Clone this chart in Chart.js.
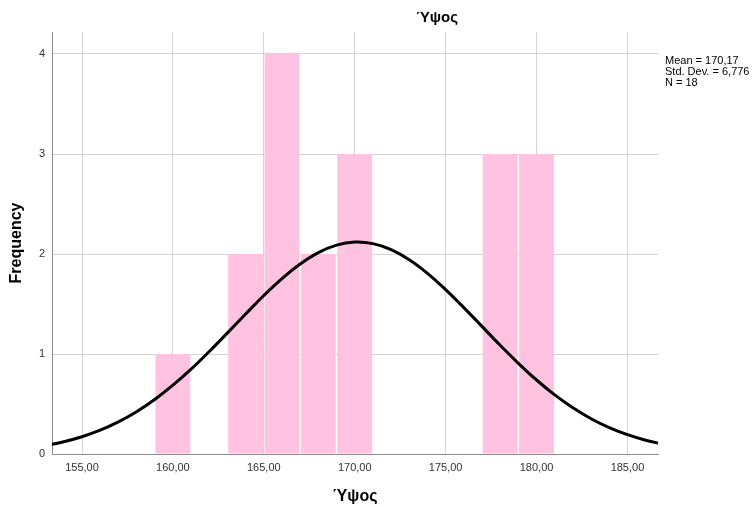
<!DOCTYPE html>
<html>
<head>
<meta charset="utf-8">
<script src="https://cdn.jsdelivr.net/npm/chart.js@4.4.1/dist/chart.umd.min.js"></script>
<style>
    html, body { margin: 0; padding: 0; background: #fff; }
    #wrap { width: 755px; height: 508px; }
</style>
</head>
<body>
<div id="wrap"><canvas id="histChart" width="755" height="508"></canvas></div>
<script>
// bin centres (bin width 2) and counts
const binCenters = [160, 164, 166, 168, 170, 178, 180];
const counts = [1, 2, 4, 2, 3, 3, 3];
// normal curve
const curveX = [153, 154, 155, 156, 157, 158, 159, 160, 161, 162, 163, 164, 165, 166, 167, 168, 169, 170,
    171, 172, 173, 174, 175, 176, 177, 178, 179, 180, 181, 182, 183, 184, 185, 186, 187];
const curveY = [0.085, 0.123, 0.173, 0.238, 0.321, 0.423, 0.545, 0.688, 0.848, 1.025, 1.211, 1.400, 1.585,
    1.754, 1.900, 2.014, 2.089, 2.119, 2.104, 2.044, 1.943, 1.807, 1.644, 1.464, 1.276, 1.087, 0.907,
    0.740, 0.591, 0.462, 0.353, 0.264, 0.193, 0.138, 0.097];
const xTicks = [155, 160, 165, 170, 175, 180, 185];
const yTicks = [0, 1, 2, 3, 4];
const statsLines = ['Mean = 170,17', 'Std. Dev. = 6,776', 'N = 18'];
const chartTitle = 'Ύψος';
const xTitle = 'Ύψος';
const yTitle = 'Frequency';

const textPlugin = {
    id: 'textPlugin',
    afterDraw(chart) {
        const c = chart.ctx;
        c.save();
        c.fillStyle = '#000';
        c.textBaseline = 'middle';
        c.textAlign = 'center';
        c.font = 'bold 15px "Liberation Sans", Arial, sans-serif';
        c.fillText(chartTitle, 437, 18);
        c.font = 'bold 16px "Liberation Sans", Arial, sans-serif';
        c.fillText(xTitle, 355, 497);
        c.translate(17, 243);
        c.rotate(-Math.PI / 2);
        c.fillText(yTitle, 0, 0);
        c.restore();

        c.save();
        c.fillStyle = '#000';
        c.textAlign = 'left';
        c.textBaseline = 'middle';
        c.font = '11px "Liberation Sans", Arial, sans-serif';
        statsLines.forEach(function(s, i) {
            c.fillText(s, 665, 61 + i * 11);
        });
        c.restore();
    }
};

const ctx = document.getElementById('histChart').getContext('2d');
const histChart = new Chart(ctx, {
    type: 'bar',
    data: {
        datasets: [{
            type: 'line',
            data: curveX.map(function(x, i) { return { x: x, y: curveY[i] }; }),
            borderColor: '#000',
            borderWidth: 3,
            pointRadius: 0,
            tension: 0.4,
            fill: false,
            order: 0
        }, {
            type: 'bar',
            data: binCenters.map(function(x, i) { return { x: x, y: counts[i] }; }),
            backgroundColor: 'rgb(255, 194, 224)',
            borderWidth: 0,
            barPercentage: 0.96,
            categoryPercentage: 1,
            order: 1
        }]
    },
    plugins: [textPlugin],
    options: {
        responsive: false,
        animation: false,
        layout: { padding: { left: 0, right: 97, top: 32, bottom: 0 } },
        plugins: {
            legend: { display: false },
            tooltip: { enabled: false },
            title: { display: false }
        },
        scales: {
            x: {
                type: 'linear',
                min: 153.35,
                max: 186.68,
                offset: false,
                afterFit: function(scale) { scale.height = 54; },
                afterBuildTicks: function(scale) {
                    scale.ticks = xTicks.map(function(v) { return { value: v }; });
                },
                grid: { color: '#d4d4d4', lineWidth: 1, drawTicks: false, offset: false },
                border: { color: '#8c8c8c', width: 1 },
                ticks: {
                    padding: 7,
                    color: '#333',
                    font: { family: '"Liberation Sans", Arial, sans-serif', size: 11 },
                    callback: function(v) { return v.toFixed(2).replace('.', ','); }
                }
            },
            y: {
                min: 0,
                max: 4.22,
                afterFit: function(scale) { scale.width = 52; },
                afterBuildTicks: function(scale) {
                    scale.ticks = yTicks.map(function(v) { return { value: v }; });
                },
                grid: { color: '#d4d4d4', lineWidth: 1, drawTicks: false },
                border: { color: '#8c8c8c', width: 1 },
                ticks: {
                    padding: 7,
                    color: '#333',
                    font: { family: '"Liberation Sans", Arial, sans-serif', size: 11 },
                    callback: function(v) { return String(v); }
                }
            }
        }
    }
});
</script>
</body>
</html>
